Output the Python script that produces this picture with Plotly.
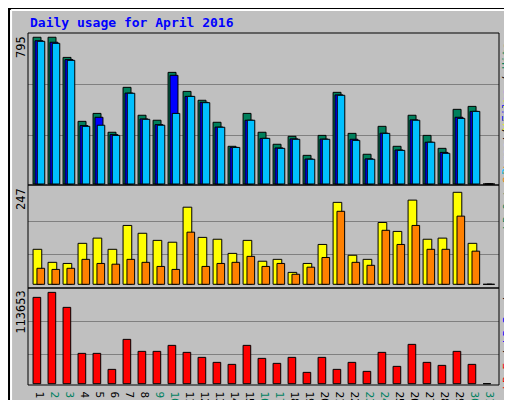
import plotly.graph_objects as go

days = list(range(1, 32))
hits  = [794,794,685,339,382,280,523,372,345,604,501,453,334,204,382,280,215,258,155,263,496,274,161,312,204,372,263,193,404,420,0]
files = [775,767,673,316,361,267,492,352,321,588,474,442,308,198,345,247,195,244,135,243,482,242,136,275,184,347,226,171,361,393,0]
pages = [772,761,669,312,318,263,491,350,318,382,474,440,307,198,345,247,193,242,134,242,480,236,134,274,182,345,226,166,355,393,0]
visits= [94,59,56,110,124,94,158,137,118,113,207,126,121,83,118,62,67,32,56,107,220,78,67,166,142,226,121,124,247,110,0]
sites = [43,40,43,67,56,54,67,59,48,40,140,48,56,59,75,48,56,27,46,72,196,59,51,145,107,158,94,94,183,89,0]
kbf   = [107433,113653,94989,37747,37747,17836,55168,40236,40236,47702,38991,32769,26547,24058,47702,31525,25303,32769,14103,32769,17836,26547,15348,38991,21570,48946,26547,22814,40236,24058,0]
weekend = {2,3,9,10,16,17,23,24,30,31}
max_labels = ["795", "247", "113653"]

line = dict(color="black", width=1)
fig = go.Figure()
def bar(y, color, off, w, ax):
    fig.add_trace(go.Bar(x=days, y=y, marker=dict(color=color, line=line),
                         offset=off, width=w, xaxis="x"+ax, yaxis="y"+ax, showlegend=False))
bar(hits, "#00805C", -0.53, 0.53, "")
bar(files, "#0000FF", -0.40, 0.53, "")
bar(pages, "#00C0FF", -0.25, 0.50, "")
bar(visits, "#FFFF00", -0.53, 0.58, "2")
bar(sites, "#FF8000", -0.27, 0.51, "2")
bar(kbf, "#FF0000", -0.53, 0.51, "3")

xr = [0.133, 31.53]
xd = [20/512, 491/512]
ax_common = dict(range=xr, domain=xd, showgrid=False, zeroline=False, showticklabels=False, ticks="")
ticktext = [f"<span style='color:{'#008060' if d in weekend else '#000000'}'>{d}</span>" for d in days]
fig.update_layout(
    width=512, height=400, margin=dict(l=0, r=0, t=0, b=0),
    paper_bgcolor="#C0C0C0", plot_bgcolor="#C0C0C0", barmode="overlay",
    font=dict(family="DejaVu Sans Mono", size=11, color="black"),
    xaxis=dict(ax_common, anchor="y"),
    xaxis2=dict(ax_common, anchor="y2"),
    xaxis3=dict(range=xr, domain=xd, showgrid=False, zeroline=False, anchor="y3", ticks="",
                tickvals=days, ticktext=ticktext, tickfont=dict(size=11)),
    yaxis=dict(domain=[0.5575, 0.9375], range=[-5.4, 817], tickvals=[265, 541], anchor="x",
               showticklabels=False, gridcolor="#808080", zeroline=False),
    yaxis2=dict(domain=[0.30, 0.5575], range=[-9.9, 266.6], tickvals=[80.5, 169], anchor="x2",
                showticklabels=False, gridcolor="#808080", zeroline=False),
    yaxis3=dict(domain=[0.0575, 0.30], range=[-1618, 119089], tickvals=[36585, 77650], anchor="x3",
                showticklabels=False, gridcolor="#808080", zeroline=False),
)
shapes = [
    dict(type="rect", xref="paper", yref="paper", x0=0.002, y0=0.002, x1=0.998, y1=0.998, line=dict(color="black", width=2)),
    dict(type="line", xref="paper", yref="paper", x0=0.006, y0=0.995, x1=0.994, y1=0.995, line=dict(color="white", width=2)),
    dict(type="line", xref="paper", yref="paper", x0=0.006, y0=0.995, x1=0.006, y1=0.008, line=dict(color="white", width=2)),
    dict(type="line", xref="paper", yref="paper", x0=0.992, y0=0.99, x1=0.992, y1=0.01, line=dict(color="#808080", width=3)),
]
for y0, y1 in [(0.5575, 0.9375), (0.30, 0.5575), (0.0575, 0.30)]:
    shapes.append(dict(type="rect", xref="paper", yref="paper", x0=20/512, x1=491/512, y0=y0, y1=y1,
                       line=dict(color="black", width=1)))
fig.update_layout(shapes=shapes)

ann = [dict(text="<b>Daily usage for April 2016</b>", x=20/512, y=1-15/400, xref="paper", yref="paper",
            xanchor="left", yanchor="middle", showarrow=False, font=dict(color="#0000FF", size=13))]
for lab, ytop in zip(max_labels, [0.935, 0.555, 0.297]):
    ann.append(dict(text=lab, x=13/512, y=ytop, xref="paper", yref="paper", textangle=-90,
                    xanchor="center", yanchor="top", showarrow=False, font=dict(size=12)))
ann.append(dict(text="<span style='color:#00C0FF'>Pages</span> / <span style='color:#0000FF'>Files</span> / <span style='color:#00805C'>Hits</span>",
                x=499/512, y=0.7475, xref="paper", yref="paper", textangle=-90,
                xanchor="center", yanchor="middle", showarrow=False, font=dict(size=11)))
ann.append(dict(text="<span style='color:#00805C'>kB Out</span> <span style='color:#FF8000'>Sites</span> / <span style='color:#FFFF00'>Visits</span>",
                x=499/512, y=0.44, xref="paper", yref="paper", textangle=-90,
                xanchor="center", yanchor="bottom", showarrow=False, font=dict(size=11)))
ann.append(dict(text="<span style='color:#FF0000'>kB F</span> / <span style='color:#0000FF'>kB In</span> / ",
                x=499/512, y=0.04, xref="paper", yref="paper", textangle=-90,
                xanchor="center", yanchor="bottom", showarrow=False, font=dict(size=11)))
fig.update_layout(annotations=ann)
fig.write_html("out.html")
